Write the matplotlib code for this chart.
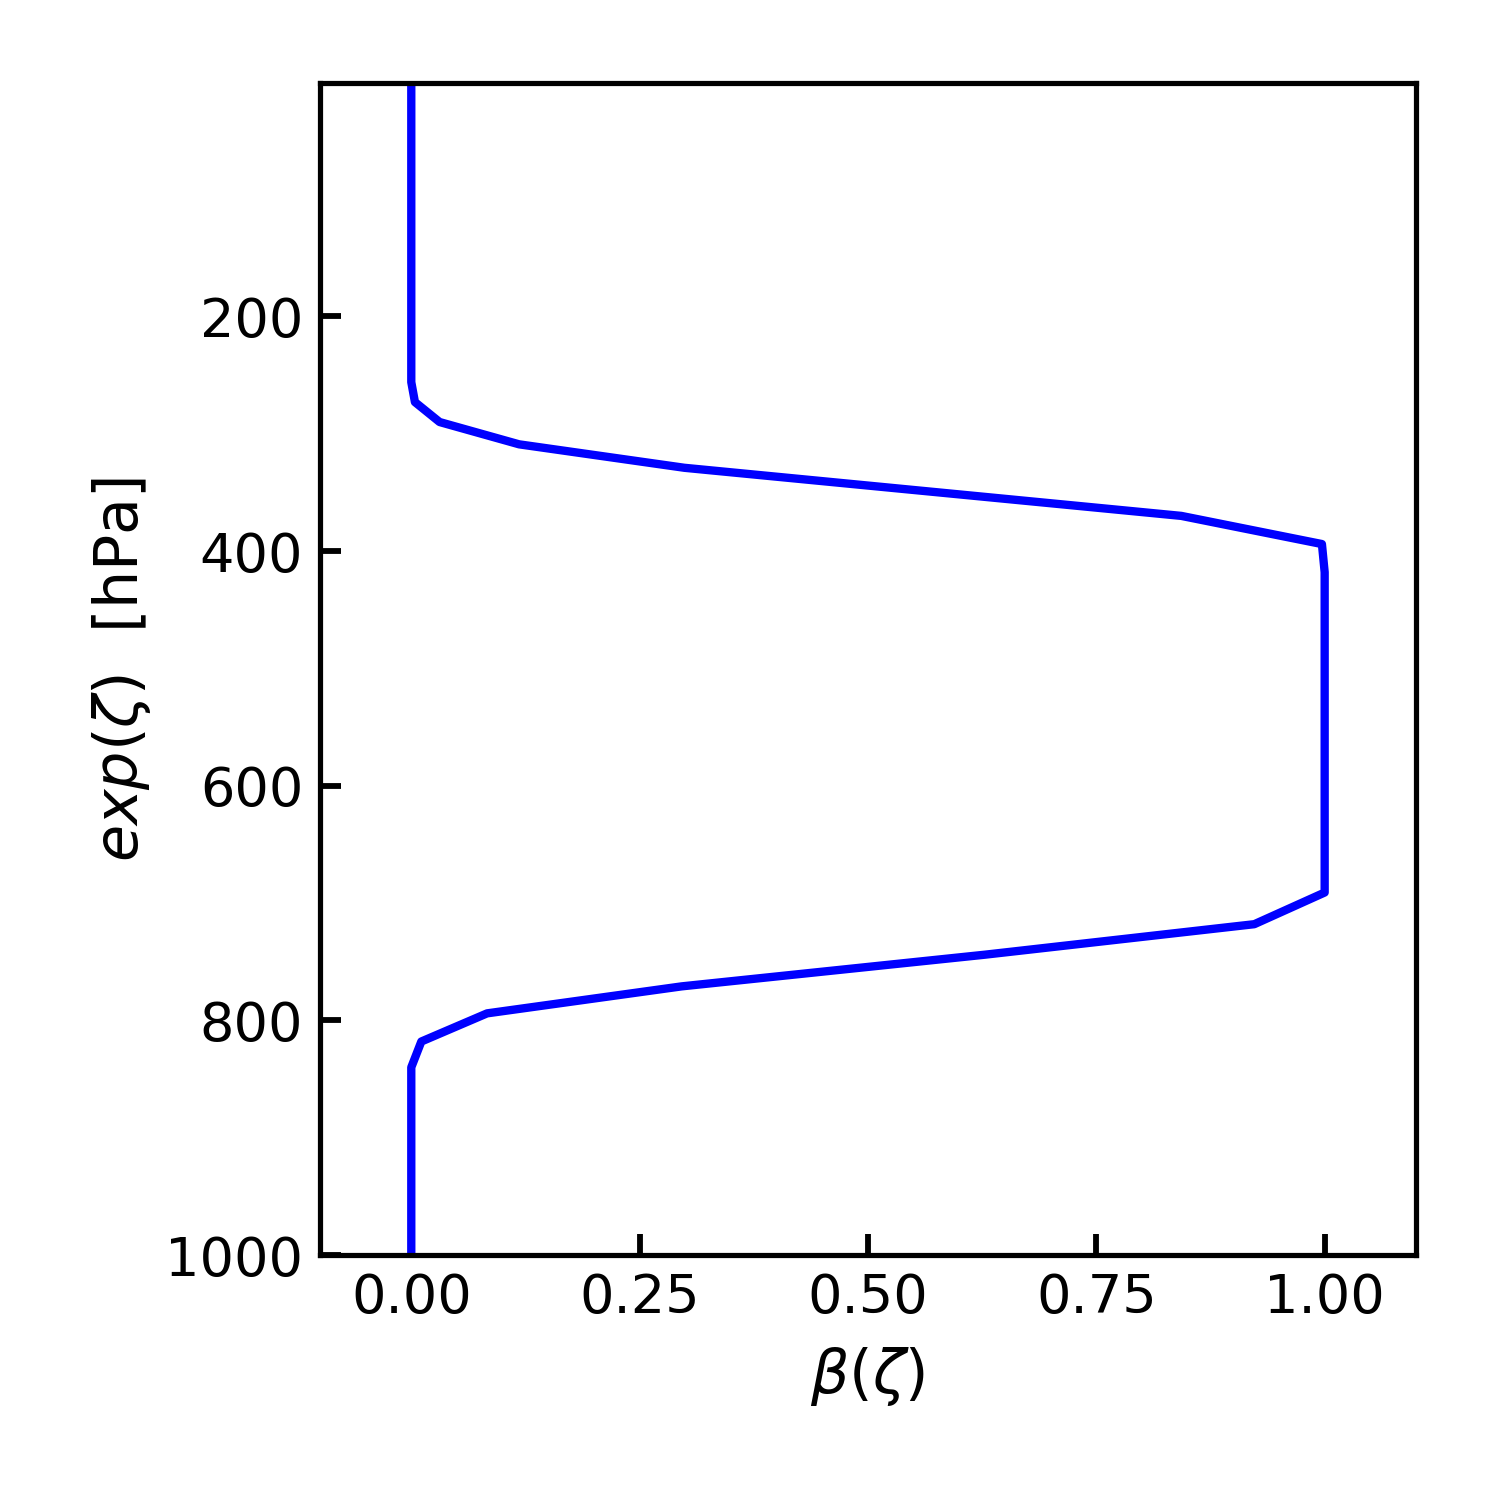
import matplotlib
matplotlib.use("Agg")
import matplotlib.pyplot as plt
import numpy as np

# beta profile (pressure in hPa)
pressure = [1, 256, 273, 290, 309, 329, 370, 394, 418,
            691, 718, 744, 771, 794, 818, 840, 1000]
beta = [0.0, 0.0, 0.004, 0.031, 0.118, 0.299, 0.843, 0.997, 1.0,
        1.0, 0.923, 0.628, 0.296, 0.083, 0.011, 0.0, 0.0]

yticks = [200, 400, 600, 800, 1000]
xticks = [0.0, 0.25, 0.5, 0.75, 1.0]

fig = plt.figure(figsize=(5, 5), dpi=300)
ax = fig.add_axes([0.2133, 0.1633, 0.7307, 0.7814])

ax.plot(beta, pressure, color="blue", lw=2)

ax.set_xlim(-0.1, 1.1)
ax.set_ylim(1000, 1)
ax.set_xticks(xticks)
ax.set_yticks(yticks)
ax.tick_params(direction="in", length=5, width=1.4, labelsize=13, pad=4)

for s in ax.spines.values():
    s.set_linewidth(1.25)

ax.set_xlabel(r"$\beta(\zeta)$", fontsize=14.5, labelpad=5)
ax.set_ylabel(r"$exp(\zeta)$  [hPa]", fontsize=14.5, labelpad=3)

fig.savefig("out.png", dpi=300)
